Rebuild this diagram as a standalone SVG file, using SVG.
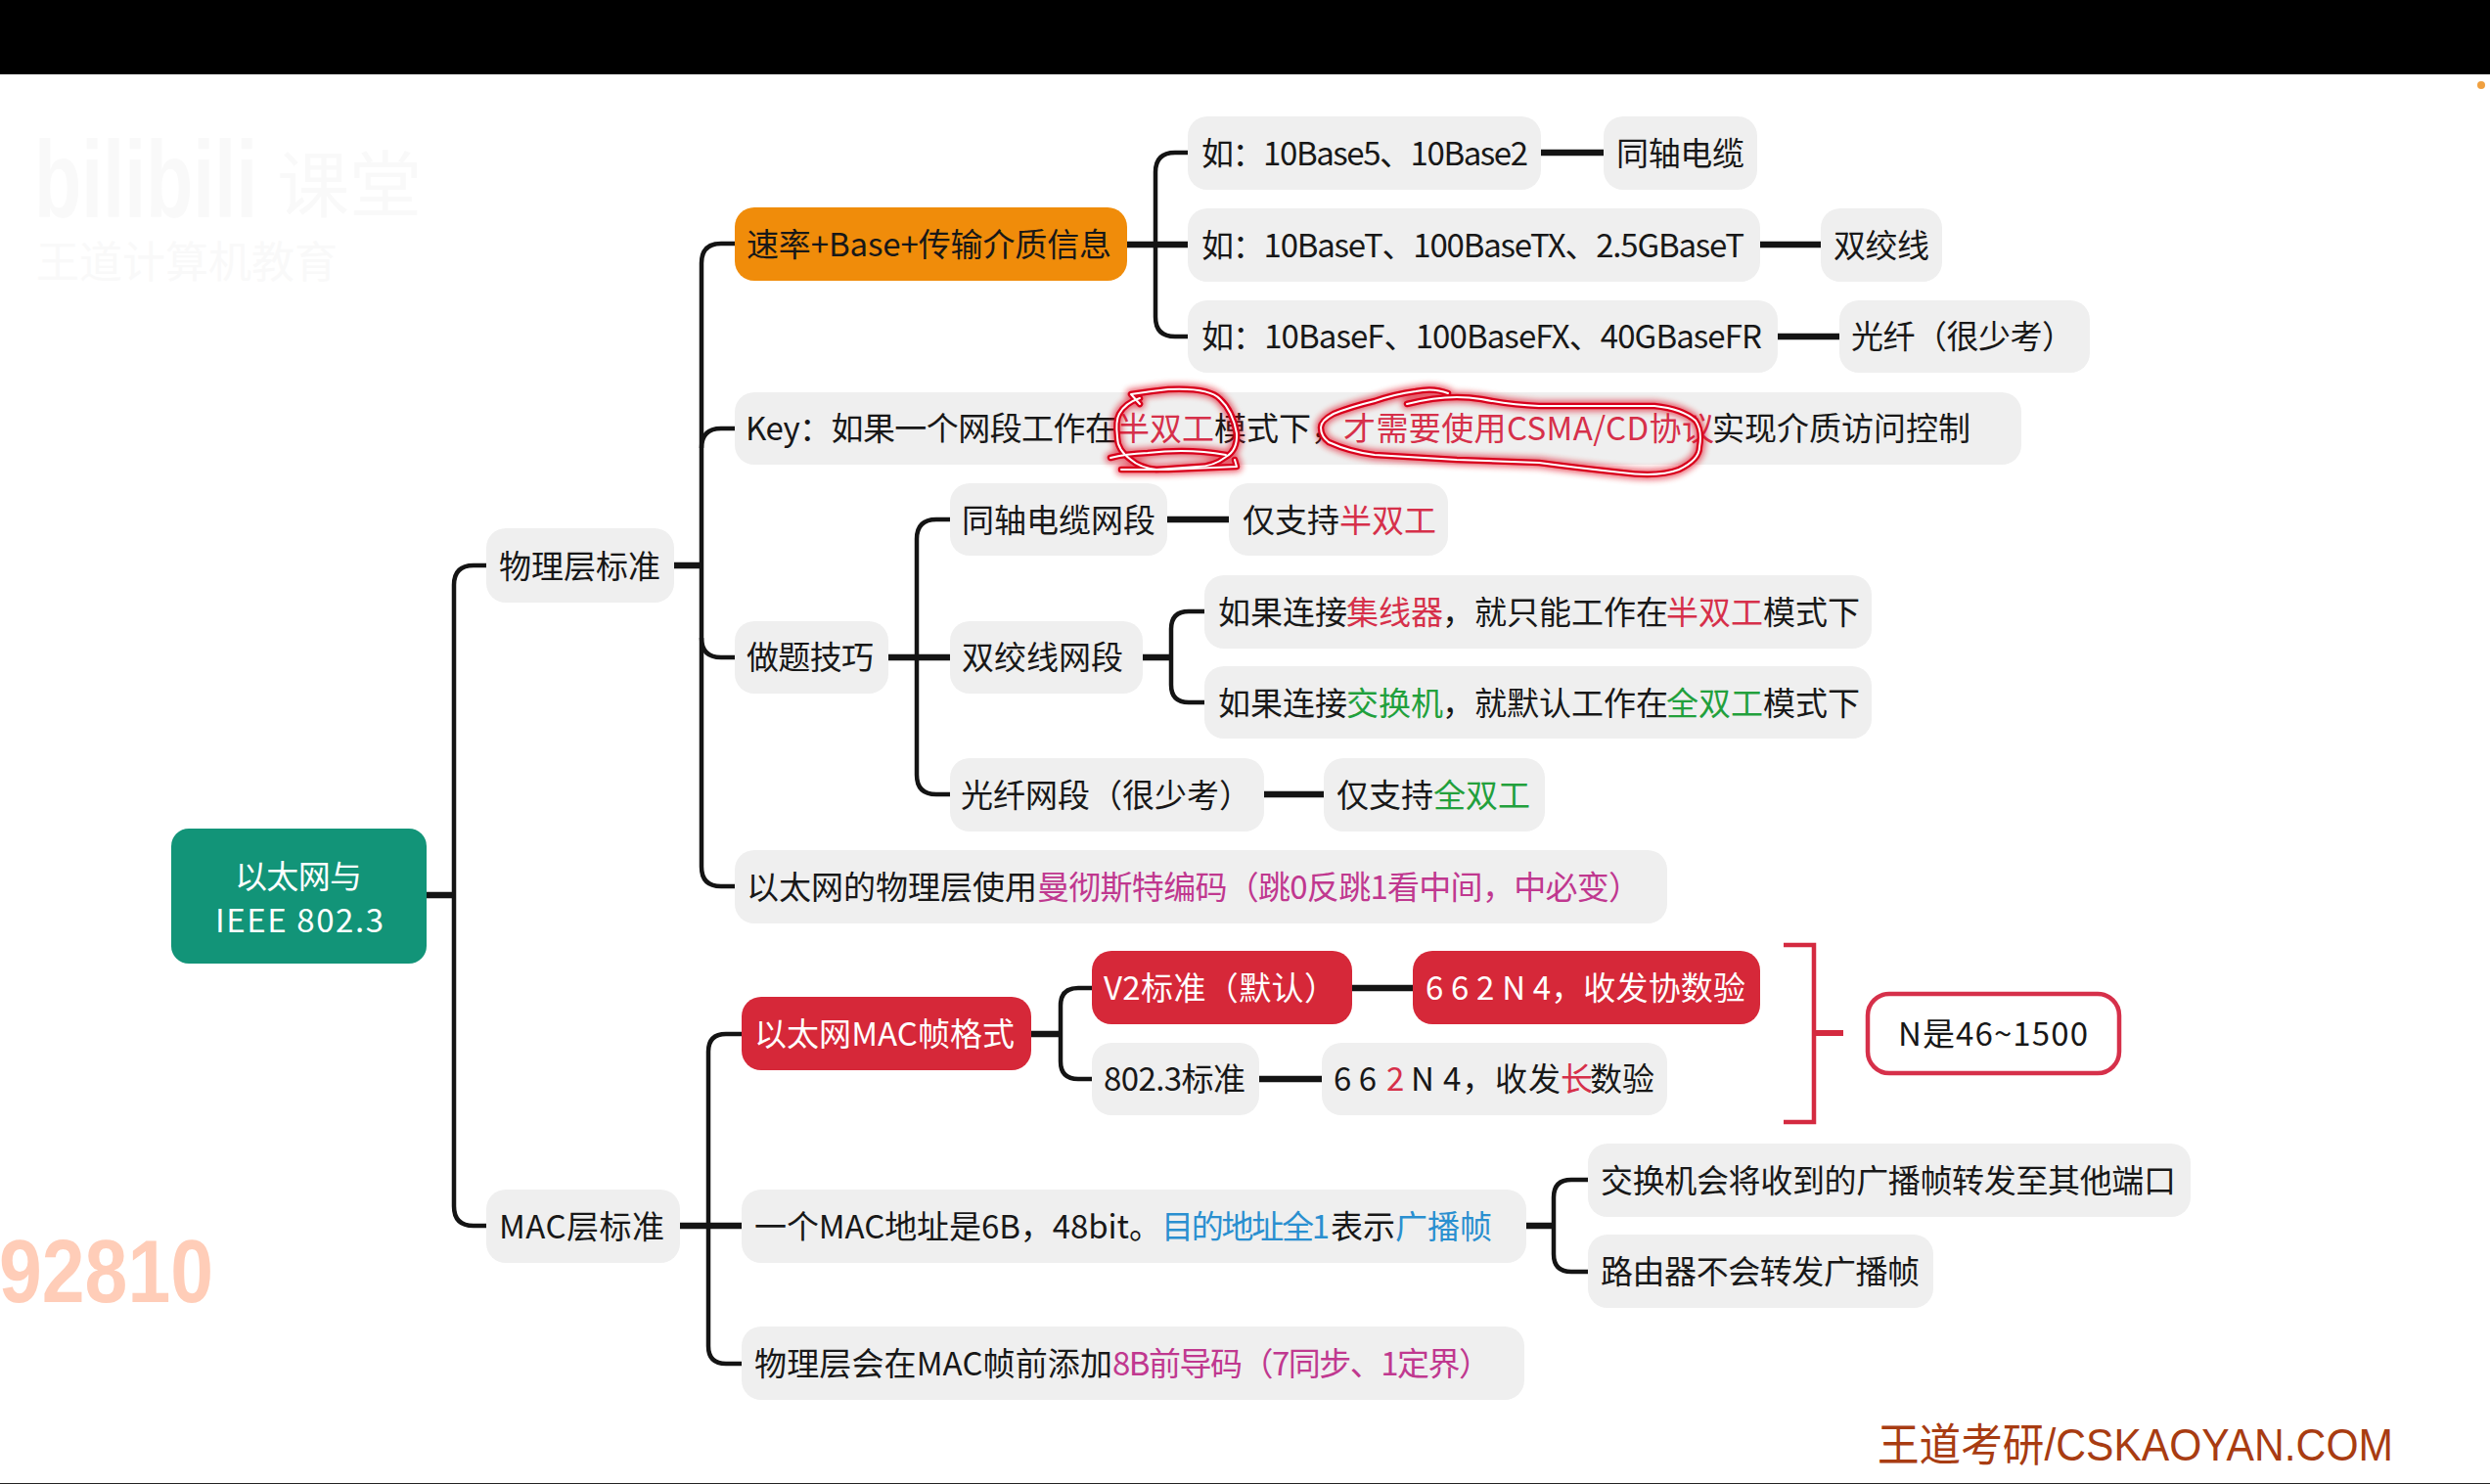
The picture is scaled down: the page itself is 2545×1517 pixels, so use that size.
<svg xmlns="http://www.w3.org/2000/svg" width="2545" height="1517" viewBox="0 0 2545 1517">
<defs>
<style>
text{font-family:"Noto Sans CJK SC","Noto Sans",sans-serif;font-size:33px;fill:#181818}
.g{fill:#efefef}.o{fill:#f08c0a}.r{fill:#d62839}.t{fill:#129478}
.w{fill:#fff}
.cr{fill:#d6304a}.cg{fill:#22a03c}.cm{fill:#c0388f}.cb{fill:#2a8fd0}
.trunk{fill:none;stroke:#141414;stroke-width:4.5;stroke-linecap:butt}
.stub{fill:none;stroke:#141414;stroke-width:6.5}
.red{fill:none;stroke:#d42a40}
.ink{fill:none;stroke-linecap:round;stroke-linejoin:round}
.wm{fill:#f9f9f9}
</style>
<filter id="glow" x="-10%" y="-30%" width="120%" height="160%"><feGaussianBlur stdDeviation="3"/></filter>
<g id="inkpaths">
<path id="ink1" d="M1165 413 L1156 403 Q1175 400 1194 398 Q1236 396 1247 408 Q1260 420 1264 443 Q1265 460 1253 467 Q1240 477 1224 477 L1182 480 Q1165 478 1156 470 Q1142 460 1142 447 Q1140 430 1144 423 Q1150 412 1165 407"/>
<path id="ink2" d="M1135 468 Q1150 464 1173 463 Q1215 458 1253 465"/>
<path id="ink3" d="M1146 480 L1194 480 L1264 477 L1262 470"/>
<path id="ink4" d="M1480 402 Q1465 396 1447 400 Q1425 403 1405 410 Q1380 416 1363 423 Q1350 430 1350 437 Q1350 446 1358 452 Q1380 462 1405 465 L1489 470 L1573 473 Q1610 478 1657 483 Q1695 488 1716 480 Q1737 470 1737 457 Q1740 440 1733 430 Q1720 418 1691 415 L1573 415 Q1545 414 1514 408 Q1480 402 1438 413"/>
</g>
</defs>
<rect width="2545" height="1517" fill="#fff"/>
<rect width="2545" height="76" fill="#000"/>
<rect y="1516" width="2545" height="1" fill="#222"/>
<circle cx="2536" cy="87" r="4" fill="#f0a040"/>

<g id="watermark">
<text class="wm" transform="translate(35 222) scale(1 1.4)" style="font-family:'Liberation Sans',sans-serif;font-size:79px;font-weight:700">bilibili</text>
<text class="wm" x="283" y="216" style="font-size:74px">课堂</text>
<text class="wm" x="37" y="284" style="font-size:44px">王道计算机教育</text>
</g>

<g id="connectors">
<path class="stub" d="M435 915H464M689 578H717M1152 250H1214M1575 156H1639M1799 250H1861M1817 344H1880M908 672H971M1193 531H1256M1168 672H1197M1292 812H1353M695 1253H758M1054 1057H1084M1382 1010H1444M1287 1103H1351M1558 1253H1588"/>
<path class="trunk" d="M497 578H484Q464 578 464 598V1233Q464 1253 484 1253H497"/>
<path class="trunk" d="M751 249H737Q717 249 717 269V886Q717 906 737 906H751"/>
<path class="trunk" d="M751 438H737Q717 438 717 458M751 672H737Q717 672 717 652"/>
<path class="trunk" d="M1214 156H1201Q1181 156 1181 176V324Q1181 344 1201 344H1214"/>
<path class="trunk" d="M971 531H957Q937 531 937 551V792Q937 812 957 812H971"/>
<path class="trunk" d="M1231 625H1215Q1197 625 1197 643V700Q1197 718 1215 718H1231"/>
<path class="trunk" d="M758 1057H742Q724 1057 724 1075V1376Q724 1394 742 1394H758"/>
<path class="trunk" d="M1116 1010H1102Q1084 1010 1084 1028V1085Q1084 1103 1102 1103H1116"/>
<path class="trunk" d="M1623 1206H1606Q1588 1206 1588 1224V1282Q1588 1300 1606 1300H1623"/>
<path class="red" stroke-width="4.5" d="M1823 966H1854V1147H1823"/>
<path class="red" stroke-width="6" d="M1854 1056H1884"/>
</g>

<g id="n-root"><rect class="t" x="175" y="847" width="261" height="138" rx="18"/>
<text class="w" x="240" y="908" textLength="130">以太网与</text><text class="w" x="220" y="953" textLength="172">IEEE 802.3</text></g>
<g id="n-phy"><rect class="g" x="497" y="540" width="192" height="76" rx="20"/><text x="510" y="591" textLength="165">物理层标准</text></g>
<g id="n-mac"><rect class="g" x="497" y="1216" width="198" height="75" rx="20"/><text x="510" y="1266" textLength="169">MAC层标准</text></g>

<g id="n-rate"><rect class="o" x="751" y="212" width="401" height="75" rx="20"/><text x="763" y="262" textLength="373">速率+Base+传输介质信息</text></g>
<g id="n-e1"><rect class="g" x="1214" y="119" width="361" height="75" rx="20"/><text x="1228" y="169" textLength="334">如：10Base5、10Base2</text></g>
<g id="n-e1b"><rect class="g" x="1639" y="119" width="157" height="75" rx="20"/><text x="1652" y="169" textLength="131">同轴电缆</text></g>
<g id="n-e2"><rect class="g" x="1214" y="213" width="585" height="75" rx="20"/><text x="1228" y="263" textLength="555">如：10BaseT、100BaseTX、2.5GBaseT</text></g>
<g id="n-e2b"><rect class="g" x="1861" y="213" width="124" height="75" rx="20"/><text x="1874" y="263" textLength="98">双绞线</text></g>
<g id="n-e3"><rect class="g" x="1214" y="307" width="603" height="74" rx="20"/><text x="1228" y="356" textLength="573">如：10BaseF、100BaseFX、40GBaseFR</text></g>
<g id="n-e3b"><rect class="g" x="1880" y="307" width="256" height="74" rx="20"/><text x="1892" y="356" textLength="228">光纤（很少考）</text></g>

<g id="n-key"><rect class="g" x="751" y="401" width="1315" height="74" rx="20"/><text y="450"><tspan x="762" textLength="380">Key：如果一个网段工作在</tspan><tspan class="cr" x="1142">半双工</tspan><tspan x="1241">模式下，</tspan><tspan class="cr" x="1373" textLength="379">才需要使用CSMA/CD协议</tspan><tspan x="1750">实现介质访问控制</tspan></text></g>

<g id="n-tips"><rect class="g" x="751" y="635" width="157" height="74" rx="20"/><text x="763" y="684" textLength="130">做题技巧</text></g>
<g id="n-coax"><rect class="g" x="971" y="494" width="222" height="74" rx="20"/><text x="983" y="544" textLength="198">同轴电缆网段</text></g>
<g id="n-coaxb"><rect class="g" x="1256" y="494" width="224" height="74" rx="20"/><text y="544"><tspan x="1270">仅支持</tspan><tspan class="cr" x="1369">半双工</tspan></text></g>
<g id="n-tp"><rect class="g" x="971" y="635" width="197" height="74" rx="20"/><text x="983" y="684" textLength="165">双绞线网段</text></g>
<g id="n-tp1"><rect class="g" x="1231" y="588" width="682" height="75" rx="20"/><text y="638"><tspan x="1245">如果连接</tspan><tspan class="cr" x="1376">集线器</tspan><tspan x="1474">，就只能工作在</tspan><tspan class="cr" x="1703">半双工</tspan><tspan x="1802">模式下</tspan></text></g>
<g id="n-tp2"><rect class="g" x="1231" y="681" width="682" height="74" rx="20"/><text y="731"><tspan x="1245">如果连接</tspan><tspan class="cg" x="1376">交换机</tspan><tspan x="1474">，就默认工作在</tspan><tspan class="cg" x="1703">全双工</tspan><tspan x="1802">模式下</tspan></text></g>
<g id="n-fiber"><rect class="g" x="971" y="775" width="321" height="75" rx="20"/><text x="982" y="825" textLength="297">光纤网段（很少考）</text></g>
<g id="n-fiberb"><rect class="g" x="1353" y="775" width="226" height="75" rx="20"/><text y="825"><tspan x="1366">仅支持</tspan><tspan class="cg" x="1465">全双工</tspan></text></g>
<g id="n-manch"><rect class="g" x="751" y="869" width="953" height="75" rx="20"/><text y="919"><tspan x="763">以太网的物理层使用</tspan><tspan class="cm" x="1060" textLength="617">曼彻斯特编码（跳0反跳1看中间，中必变）</tspan></text></g>

<g id="n-frame"><rect class="r" x="758" y="1019" width="296" height="75" rx="20"/><text class="w" x="771" y="1069" textLength="266">以太网MAC帧格式</text></g>
<g id="n-v2"><rect class="r" x="1116" y="972" width="266" height="75" rx="20"/><text class="w" x="1128" y="1022" textLength="238">V2标准（默认）</text></g>
<g id="n-v2b"><rect class="r" x="1444" y="972" width="355" height="75" rx="20"/><text class="w" x="1457" y="1022" textLength="327">6 6 2 N 4，收发协数验</text></g>
<g id="n-8023"><rect class="g" x="1116" y="1066" width="171" height="74" rx="20"/><text x="1128" y="1115" textLength="145">802.3标准</text></g>
<g id="n-8023b"><rect class="g" x="1351" y="1066" width="353" height="74" rx="20"/><text y="1115"><tspan x="1363">6 6 </tspan><tspan class="cr" x="1417">2 </tspan><tspan x="1442" textLength="153">N 4，收发</tspan><tspan class="cr" x="1595">长</tspan><tspan x="1625">数验</tspan></text></g>
<g id="n-n"><rect x="1909" y="1016" width="257" height="81" rx="22" fill="#fff" stroke="#d6304a" stroke-width="4.5"/><text x="1940" y="1069" textLength="194">N是46~1500</text></g>
<g id="n-addr"><rect class="g" x="758" y="1216" width="802" height="75" rx="20"/><text y="1266"><tspan x="771" textLength="416">一个MAC地址是6B，48bit。</tspan><tspan class="cb" x="1187" textLength="172">目的地址全1</tspan><tspan x="1360">表示</tspan><tspan class="cb" x="1426">广播帧</tspan></text></g>
<g id="n-sw"><rect class="g" x="1623" y="1169" width="616" height="75" rx="20"/><text x="1636" y="1219" textLength="588">交换机会将收到的广播帧转发至其他端口</text></g>
<g id="n-rt"><rect class="g" x="1623" y="1262" width="353" height="75" rx="20"/><text x="1636" y="1312" textLength="326">路由器不会转发广播帧</text></g>
<g id="n-pre"><rect class="g" x="758" y="1356" width="800" height="75" rx="20"/><text y="1406"><tspan x="771" textLength="366">物理层会在MAC帧前添加</tspan><tspan class="cm" x="1137" textLength="387">8B前导码（7同步、1定界）</tspan></text></g>

<text x="-1" y="1331" style="font-family:'Liberation Sans',sans-serif;font-weight:700;font-size:90px;fill:#ffcdb8" textLength="219" lengthAdjust="spacingAndGlyphs">92810</text>
<text x="1919" y="1493" style="font-family:'Liberation Sans','Noto Sans CJK SC',sans-serif;font-size:46px;fill:#a83c12" textLength="527" lengthAdjust="spacingAndGlyphs">王道考研/CSKAOYAN.COM</text>

<g id="ink">
<g class="ink" stroke="#e00018" stroke-width="11" opacity=".6" filter="url(#glow)"><use href="#ink1"/><use href="#ink2"/><use href="#ink3"/><use href="#ink4"/></g>
<g class="ink" stroke="#d8001c" stroke-width="6.5"><use href="#ink1"/><use href="#ink2"/><use href="#ink3"/><use href="#ink4"/></g>
<g class="ink" stroke="#fff" stroke-width="2"><use href="#ink1"/><use href="#ink2"/><use href="#ink3"/><use href="#ink4"/></g>
</g>
</svg>
